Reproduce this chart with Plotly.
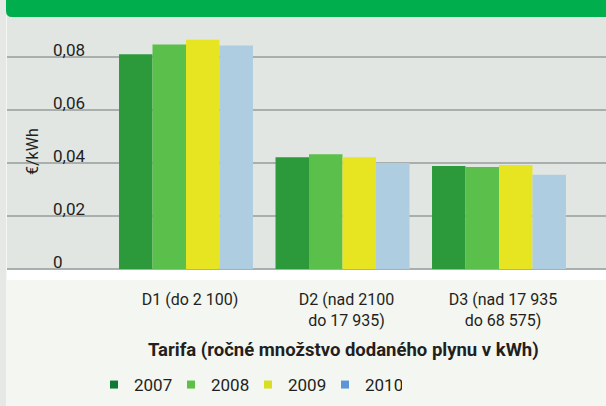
import plotly.graph_objects as go

categories = ["D1 (do 2 100)", "D2 (nad 2100<br>do 17 935)", "D3 (nad 17 935<br>do 68 575)"]
years = ["2007", "2008", "2009", "2010"]
v2007 = [0.0811, 0.0422, 0.0389]
v2008 = [0.0847, 0.0433, 0.0385]
v2009 = [0.0865, 0.0422, 0.0393]
v2010 = [0.0844, 0.0400, 0.0356]
tick_vals = [0, 0.02, 0.04, 0.06, 0.08]
tick_text = ["0", "0,02", "0,04", "0,06", "0,08"]

series = [v2007, v2008, v2009, v2010]
bar_colors = ["#2c9a3b", "#5bbf4c", "#e7e422", "#aecde0"]
legend_colors = ["#0e7a33", "#5cbf46", "#d8df22", "#5b95d5"]

W, H = 606, 406
L, R, T, B = 7, 0, 16, 126
pw, ph = W - L - R, H - T - B

def px_x(x):
    return (x - L) / pw

def px_y(y):
    return (H - B - y) / ph

FONT = "Roboto"
TXT = "#231f20"

fig = go.Figure()
for name, vals, c in zip(years, series, bar_colors):
    fig.add_trace(go.Bar(x=[0, 1, 2], y=vals, name=name, marker=dict(color=c, line=dict(width=0)),
                         showlegend=False, hoverinfo="y"))
for name, c in zip(years, legend_colors):
    fig.add_trace(go.Scatter(x=[None], y=[None], mode="markers", name=name,
                             marker=dict(symbol="square", size=8, color=c)))

# header band with rounded bottom-left corner
x0, x1 = px_x(6), px_x(606)
ytop, ybot = px_y(0), px_y(17)
rx = 6 / pw
ry = 6 / ph
header_path = (f"M {x0},{ytop} L {x1},{ytop} L {x1},{ybot} L {x0+rx},{ybot} "
               f"Q {x0},{ybot} {x0},{ybot+ry} Z")

shapes = [
    dict(type="rect", xref="paper", yref="paper", x0=px_x(0), x1=px_x(6), y0=px_y(406), y1=px_y(0),
         fillcolor="#e6e8e6", line=dict(width=0), layer="below"),
    dict(type="path", path=header_path, xref="paper", yref="paper",
         fillcolor="#00ae4d", line=dict(width=0)),
    dict(type="rect", xref="paper", yref="y", x0=0, x1=1, y0=-0.00415, y1=0,
         fillcolor="#ffffff", line=dict(width=0), layer="below"),
]

C0 = 186.0
STEP = 156.5

fig.update_layout(
    width=W, height=H,
    margin=dict(l=L, r=R, t=T, b=B, autoexpand=False),
    paper_bgcolor="#f3f6f1",
    plot_bgcolor="#e1e6e3",
    barmode="group", bargap=0.144, bargroupgap=0,
    font=dict(family=FONT, color=TXT, size=16),
    shapes=shapes,
    showlegend=True,
    legend=dict(orientation="h", x=px_x(94), y=px_y(385), xanchor="left", yanchor="middle",
                font=dict(family=FONT, size=17, color=TXT), bgcolor="rgba(0,0,0,0)",
                entrywidth=32, entrywidthmode="pixels", itemwidth=30),
    xaxis=dict(
        tickmode="array", tickvals=[0, 1, 2], ticktext=categories,
        range=[-(C0 - 7) / STEP, (606 - C0) / STEP],
        showgrid=False, zeroline=False, showline=False, ticks="",
        tickfont=dict(family=FONT, size=16, color=TXT),
        ticklabelstandoff=8, ticklabelshift=4,
        automargin=False,
        fixedrange=True,
    ),
    yaxis=dict(
        range=[-0.00415, 0.0955],
        tickmode="array", tickvals=tick_vals, ticktext=tick_text,
        showgrid=True, gridcolor="#a9afac", gridwidth=2,
        zeroline=True, zerolinecolor="#a9afac", zerolinewidth=2,
        showline=False, ticks="",
        ticklabelposition="inside top", ticklabelstandoff=43, ticklabelshift=5,
        tickfont=dict(family=FONT, size=17, color=TXT),
        automargin=False,
        fixedrange=True,
    ),
    annotations=[
        dict(text="€/kWh", textangle=-90, xref="paper", yref="paper",
             x=px_x(32), y=px_y(152), showarrow=False,
             font=dict(family=FONT, size=16, color=TXT), xanchor="center", yanchor="middle"),
        dict(text="<b>Tarifa (ročné množstvo dodaného plynu v kWh)</b>", xref="paper", yref="paper",
             x=px_x(343), y=px_y(350), showarrow=False,
             font=dict(family=FONT, size=18.5, color=TXT), xanchor="center", yanchor="middle"),
    ],
)

fig.write_html("out.html", post_script="document.body.style.margin='0';",
               config={"displayModeBar": False})
